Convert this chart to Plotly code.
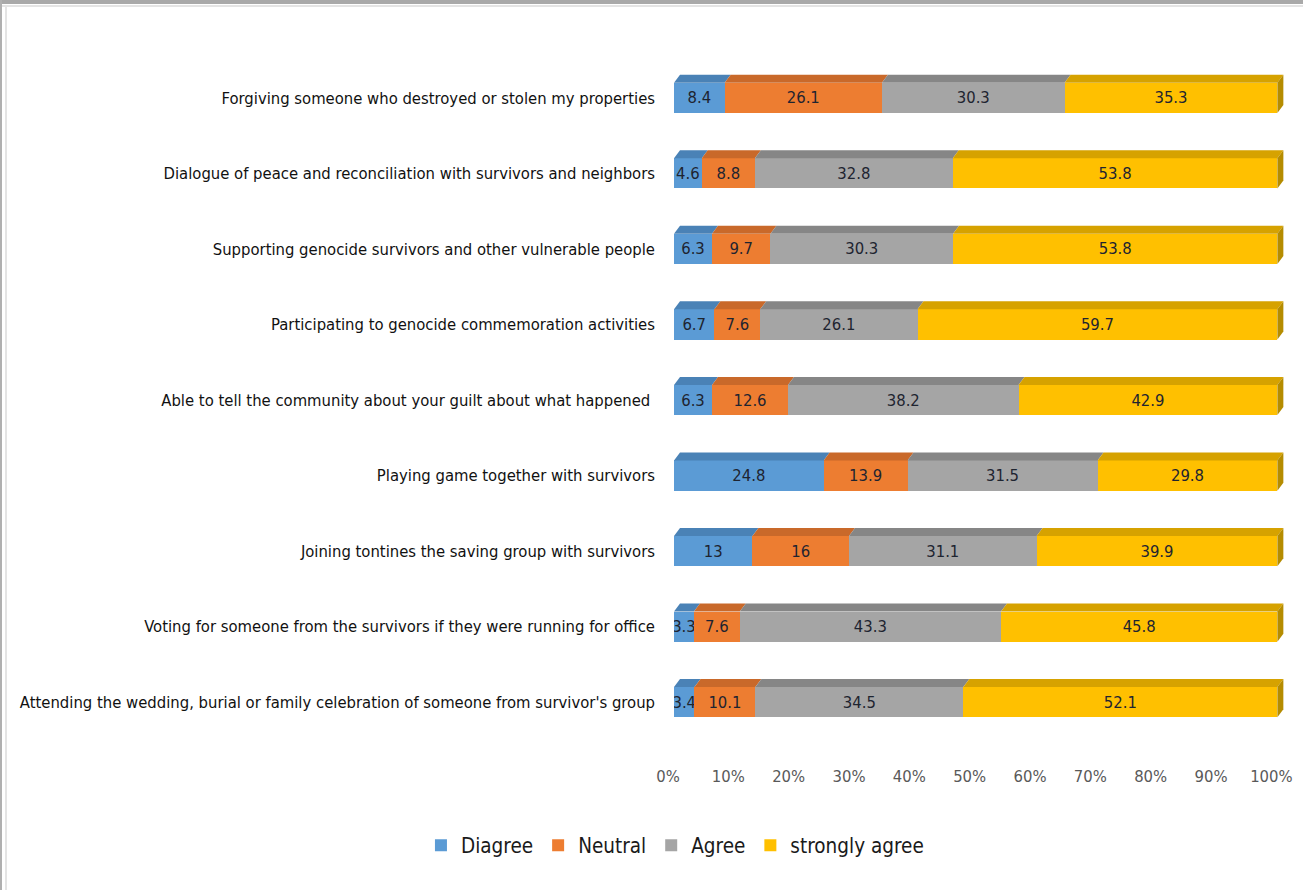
import plotly.graph_objects as go

# Survey statements (top to bottom)
statements = [
    "Forgiving someone who destroyed or stolen my properties",
    "Dialogue of peace and reconciliation with survivors and neighbors",
    "Supporting genocide survivors and other vulnerable people",
    "Participating to genocide commemoration activities",
    "Able to tell the community about your guilt about what happened ",
    "Playing game together with survivors",
    "Joining tontines the saving group with survivors",
    "Voting for someone from the survivors if they were running for office",
    "Attending the wedding, burial or family celebration of someone from survivor's group",
]

disagree = [8.4, 4.6, 6.3, 6.7, 6.3, 24.8, 13, 3.3, 3.4]
neutral = [26.1, 8.8, 9.7, 7.6, 12.6, 13.9, 16, 7.6, 10.1]
agree = [30.3, 32.8, 30.3, 26.1, 38.2, 31.5, 31.1, 43.3, 34.5]
strongly_agree = [35.3, 53.8, 53.8, 59.7, 42.9, 29.8, 39.9, 45.8, 52.1]

series_names = ["Diagree", "Neutral", "Agree", "strongly agree"]
series_values = [disagree, neutral, agree, strongly_agree]

x_tick_vals = [0, 10, 20, 30, 40, 50, 60, 70, 80, 90, 100]
x_tick_text = ["0%", "10%", "20%", "30%", "40%", "50%", "60%", "70%", "80%", "90%", "100%"]

# Styling
front_colors = ["#5B9BD5", "#ED7D31", "#A5A5A5", "#FFC000"]
top_colors = ["#4A82B6", "#C9692A", "#868686", "#D6A200"]
side_color = "#B58C00"
FONT = "DejaVu Sans Condensed, Liberation Sans Narrow, Arial Narrow, sans-serif"

W, H = 1303, 890
M_L, M_R, M_T, M_B = 674, 16, 60, 150
X_MAX = 101.6
BAR_W = 0.40
plot_w = W - M_L - M_R
plot_h = H - M_T - M_B
n = len(statements)
y_idx = list(range(n))

# 3D depth in data units (a few pixels right and up)
DX = 6.0 * X_MAX / plot_w
DY = 8.0 * n / plot_h

fig = go.Figure()

# Front faces of stacked bars
for name, vals, col in zip(series_names, series_values, front_colors):
    fig.add_trace(go.Bar(
        y=y_idx, x=vals, name=name, orientation="h",
        marker=dict(color=col, line=dict(width=0)),
        width=BAR_W,
        text=[f"{v:g}" for v in vals],
        textposition="inside", insidetextanchor="middle", textangle=0,
        insidetextfont=dict(family=FONT, size=16.5, color="#1E2430"),
        hoverinfo="skip",
    ))

# Top faces and right end faces (3D effect), derived from normalised stacks
for i in range(n):
    row = [s[i] for s in series_values]
    total = sum(row)
    cum = 0.0
    yt = i - BAR_W / 2
    for k, v in enumerate(row):
        a = cum / total * 100
        b = (cum + v) / total * 100
        cum += v
        fig.add_trace(go.Scatter(
            x=[a, a + DX, b + DX, b, a],
            y=[yt, yt - DY, yt - DY, yt, yt],
            mode="lines", fill="toself", fillcolor=top_colors[k],
            line=dict(width=0), showlegend=False, hoverinfo="skip",
        ))
    yb = i + BAR_W / 2
    fig.add_trace(go.Scatter(
        x=[100, 100 + DX, 100 + DX, 100, 100],
        y=[yt, yt - DY, yb - DY, yb, yt],
        mode="lines", fill="toself", fillcolor=side_color,
        line=dict(width=0), showlegend=False, hoverinfo="skip",
    ))

# Thin window frame around the chart area
def px_x(p):
    return (p - M_L) / plot_w

def px_y(p):
    return 1 - (p - M_T) / plot_h

frame = [
    dict(x0=px_x(0), x1=px_x(W), y0=px_y(0), y1=px_y(4), color="#A9A9A9"),
    dict(x0=px_x(0), x1=px_x(W), y0=px_y(5), y1=px_y(7), color="#E4E4E4"),
    dict(x0=px_x(0), x1=px_x(2), y0=px_y(0), y1=px_y(H), color="#B0B0B0"),
    dict(x0=px_x(5), x1=px_x(7), y0=px_y(5), y1=px_y(H), color="#E4E4E4"),
]
for f in frame:
    fig.add_shape(type="rect", xref="paper", yref="paper",
                  x0=f["x0"], x1=f["x1"], y0=f["y0"], y1=f["y1"],
                  fillcolor=f["color"], line=dict(width=0), layer="below")

fig.update_layout(
    barmode="stack", barnorm="percent",
    width=W, height=H,
    margin=dict(l=M_L, r=M_R, t=M_T, b=M_B, autoexpand=False),
    paper_bgcolor="white", plot_bgcolor="white",
    font=dict(family=FONT, color="#222222"),
    uniformtext=dict(minsize=16.5, mode="show"),
    xaxis=dict(
        range=[0, X_MAX], tickvals=x_tick_vals, ticktext=x_tick_text,
        showgrid=False, zeroline=False, showline=False, ticks="",
        tickfont=dict(family=FONT, size=16.5, color="#595959"),
        ticklabelshift=-6, ticklabelstandoff=24, automargin=False,
    ),
    yaxis=dict(
        range=[n - 0.5, -0.5], tickvals=y_idx, ticktext=statements,
        showgrid=False, zeroline=False, showline=False, ticks="",
        tickfont=dict(family=FONT, size=16.5, color="#111111"),
        ticklabelstandoff=18, automargin=False,
    ),
    legend=dict(
        orientation="h", xref="container", yref="container",
        x=0.518, xanchor="center", y=0.05, yanchor="middle",
        font=dict(family=FONT, size=20.5, color="#1A1A1A"),
        itemwidth=30, traceorder="normal",
    ),
    showlegend=True,
)

fig.write_html("out.html")
